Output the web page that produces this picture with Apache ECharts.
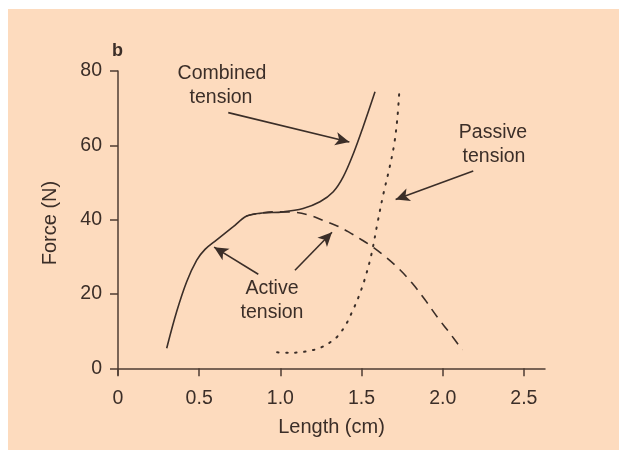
<!DOCTYPE html>
<html>
<head>
<meta charset="utf-8">
<script src="https://cdn.jsdelivr.net/npm/echarts@6/dist/echarts.min.js"></script>
<style>
html, body { margin: 0; padding: 0; background: #ffffff; }
#chart { width: 619px; height: 450px; }
</style>
</head>
<body>
<div id="chart"></div>
<script>
// tick labels
var xTicks = [0, 0.5, 1.0, 1.5, 2.0, 2.5];
var yTicks = [0, 20, 40, 60, 80];

// combined tension (solid)
var combinedX = [0.30, 0.361, 0.423, 0.485, 0.536, 0.606, 0.71, 0.79, 0.873, 1.018, 1.14, 1.244, 1.326, 1.387, 1.45, 1.51, 1.583];
var combinedY = [5.4, 15.2, 23.3, 29.1, 32.0, 34.5, 38.1, 40.9, 41.7, 42.1, 43.0, 44.8, 47.5, 51.5, 57.8, 65.0, 74.4];

// active tension (dashed)
var activeX = [0.79, 0.88, 0.98, 1.08, 1.18, 1.27, 1.35, 1.42, 1.50, 1.57, 1.65, 1.73, 1.81, 1.89, 1.97, 2.05, 2.12];
var activeY = [41.0, 41.8, 42.1, 42.0, 41.2, 39.7, 38.3, 36.7, 34.6, 32.6, 29.9, 26.8, 23.0, 18.5, 13.6, 9.1, 4.9];

// passive tension (dotted)
var passiveX = [0.98, 1.05, 1.12, 1.19, 1.25, 1.30, 1.35, 1.40, 1.44, 1.48, 1.52, 1.56, 1.60, 1.635, 1.67, 1.70, 1.72, 1.732];
var passiveY = [4.3, 4.2, 4.3, 4.8, 5.6, 6.8, 8.5, 11.5, 15.0, 19.0, 24.0, 30.5, 39.5, 47.0, 53.5, 60.0, 67.0, 74.0];

// annotation arrows: [tailX, tailY, headX, headY]
var arrows = [
    [0.679, 68.8, 1.425, 60.9],
    [0.864, 25.3, 0.592, 32.6],
    [1.09, 26.4, 1.318, 36.6],
    [2.188, 53.1, 1.71, 45.4]
];

var ink = '#3b2e28';
var font = '"Liberation Sans", Arial, sans-serif';

function zip(xs, ys){
    return xs.map(function(x, i){ return [x, ys[i]]; });
}

var chart = echarts.init(document.getElementById('chart'));

var arrowData = arrows.map(function(a){
    return [{ coord: [a[0], a[1]] }, { coord: [a[2], a[3]] }];
});

function txt(s, x, y){
    return {
        type: 'text', silent: true, z: 100,
        style: { text: s, x: x, y: y, fill: ink, font: '19.5px ' + font, textAlign: 'center', textVerticalAlign: 'middle' }
    };
}

var option = {
    backgroundColor: '#ffffff',
    animation: false,
    grid: { // 按原图像素位置
        left: 118,
        right: 74,
        top: 71,
        bottom: 75,
    },
    graphic: [
        { type: 'rect', silent: true, z: -100, shape: { x: 8, y: 9, width: 611, height: 441 }, style: { fill: '#fddbbe' } },
        { type: 'text', silent: true, z: 100, style: { text: 'b', x: 112, y: 51, fill: ink, font: 'bold 18px ' + font, textVerticalAlign: 'middle' } },
        txt('Combined', 222, 74),
        txt('tension', 221, 98),
        txt('Active', 272, 289),
        txt('tension', 272, 313),
        txt('Passive', 493, 133),
        txt('tension', 494, 157)
    ],
    xAxis: {
        type: 'value',
        min: 0,
        max: 2.63,
        name: 'Length (cm)',
        nameLocation: 'middle',
        nameGap: 42,
        nameTextStyle: { color: ink, fontSize: 20, fontFamily: font },
        splitLine: { show: false },
        axisLine: { show: true, lineStyle: { color: '#4e3d33', width: 1.5 } },
        axisTick: { show: true, length: 8, customValues: xTicks, lineStyle: { color: '#4e3d33', width: 1.5 } },
        axisLabel: {
            customValues: xTicks,
            margin: 14,
            color: ink,
            fontSize: 19.5,
            fontFamily: font,
            formatter: function(v){ return v === 0 ? '0' : v.toFixed(1); }
        },
    },
    yAxis: {
        type: 'value',
        min: -1.8,
        max: 80,
        name: 'Force (N)',
        nameLocation: 'middle',
        nameGap: 58,
        nameTextStyle: { color: ink, fontSize: 20, fontFamily: font },
        splitLine: { show: false },
        axisLine: { show: true, lineStyle: { color: '#4e3d33', width: 1.5 } },
        axisTick: { show: true, length: 8, customValues: yTicks, lineStyle: { color: '#4e3d33', width: 1.5 } },
        axisLabel: {
            customValues: yTicks,
            margin: 16,
            color: ink,
            fontSize: 19.5,
            fontFamily: font,
        },
    },
    series: [
        {
            name: 'Combined tension',
            type: 'line',
            data: zip(combinedX, combinedY),
            symbol: 'none',
            smooth: 0.35,
            lineStyle: { color: ink, width: 1.6 },
            markLine: {
                silent: true,
                symbol: ['none', 'arrow'],
                symbolSize: [10, 14],
                label: { show: false },
                lineStyle: { color: ink, width: 1.6, type: 'solid' },
                emphasis: { disabled: true },
                data: arrowData
            }
        },
        {
            name: 'Active tension',
            type: 'line',
            data: zip(activeX, activeY),
            symbol: 'none',
            smooth: 0.35,
            lineStyle: { color: ink, width: 1.6, type: [10, 7] }
        },
        {
            name: 'Passive tension',
            type: 'line',
            data: zip(passiveX, passiveY),
            symbol: 'none',
            smooth: 0.35,
            lineStyle: { color: ink, width: 2, type: [1.5, 7.5], cap: 'round' }
        }
    ]
};

chart.setOption(option);
</script>
</body>
</html>
